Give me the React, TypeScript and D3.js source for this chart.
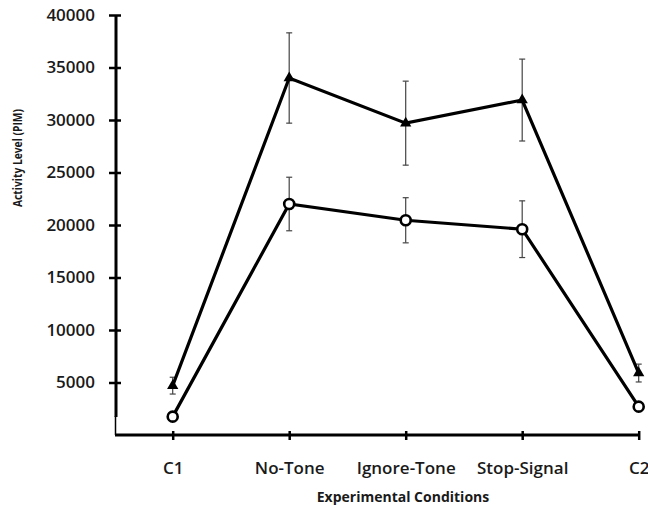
import React, { useEffect, useRef } from 'react';
import * as d3 from 'd3';

// experimental conditions along x
const categories = ['C1', 'No-Tone', 'Ignore-Tone', 'Stop-Signal', 'C2'];
// upper series (filled triangles)
const triangleMeans = [4700, 34000, 29700, 31900, 5900];
const triangleErrors = [800, 4300, 4000, 3900, 850];
// lower series (open circles)
const circleMeans = [1750, 22000, 20450, 19600, 2700];
const circleErrors = [300, 2550, 2150, 2700, 300];
const yTicks = [5000, 10000, 15000, 20000, 25000, 30000, 35000, 40000];

const font = "'Open Sans', 'Noto Sans', sans-serif";

export default function App() {
  const ref = useRef<SVGSVGElement>(null);

  useEffect(() => {
    const svg = d3.select(ref.current);
    svg.selectAll('*').remove();

    const x = d3.scalePoint<string>().domain(categories).range([172.7, 638.7]);
    const y = d3.scaleLinear().domain([0, 40000]).range([435, 15]);

    // y axis
    const yAxis = svg.append('g')
      .attr('transform', 'translate(116,0)')
      .call(d3.axisLeft(y).tickValues(yTicks).tickSize(7).tickPadding(14).tickFormat(d3.format('d')));
    yAxis.select('.domain').remove();
    yAxis.selectAll('.tick line').attr('x2', 5).attr('x1', -7).attr('stroke-width', 2.5).attr('stroke', '#000');
    yAxis.selectAll('.tick text')
      .attr('font-family', font).attr('font-size', 17).attr('font-weight', 600).attr('fill', '#1a1a1a');
    svg.append('line').attr('x1', 116).attr('x2', 116).attr('y1', y(40000)).attr('y2', 417)
      .attr('stroke', '#000').attr('stroke-width', 3);
    svg.append('line').attr('x1', 115.5).attr('x2', 115.5).attr('y1', 416).attr('y2', 435)
      .attr('stroke', '#000').attr('stroke-width', 1.5);

    // x axis
    const xAxis = svg.append('g')
      .attr('transform', 'translate(0,435)')
      .call(d3.axisBottom(x).tickSize(5).tickPadding(22));
    xAxis.select('.domain').remove();
    xAxis.selectAll('.tick line').attr('y1', -4).attr('y2', 5).attr('stroke-width', 2.5).attr('stroke', '#000');
    xAxis.selectAll('.tick text')
      .attr('font-family', font).attr('font-size', 17).attr('font-weight', 600).attr('fill', '#1a1a1a');
    svg.append('line').attr('x1', 115).attr('x2', 640).attr('y1', 435).attr('y2', 435)
      .attr('stroke', '#000').attr('stroke-width', 3);

    // axis titles
    svg.append('text')
      .attr('x', 403).attr('y', 502)
      .attr('text-anchor', 'middle')
      .attr('font-family', font).attr('font-size', 14).attr('font-weight', 700).attr('fill', '#1a1a1a')
      .text('Experimental Conditions');
    svg.append('text')
      .attr('transform', 'translate(22,158) rotate(-90)')
      .attr('text-anchor', 'middle')
      .attr('textLength', 98)
      .attr('lengthAdjust', 'spacingAndGlyphs')
      .attr('font-family', font).attr('font-size', 13).attr('font-weight', 700).attr('fill', '#1a1a1a')
      .text('Activity Level (PIM)');

    const series = [
      { means: triangleMeans, errs: triangleErrors, kind: 'triangle' },
      { means: circleMeans, errs: circleErrors, kind: 'circle' },
    ];

    // error bars
    series.forEach(s => {
      const g = svg.append('g').attr('stroke', '#444').attr('stroke-width', 1.2);
      categories.forEach((c, i) => {
        const cx = x(c)!;
        const top = y(s.means[i] + s.errs[i]);
        const bot = y(s.means[i] - s.errs[i]);
        g.append('line').attr('x1', cx).attr('x2', cx).attr('y1', top).attr('y2', bot);
        g.append('line').attr('x1', cx - 3).attr('x2', cx + 3).attr('y1', top).attr('y2', top);
        g.append('line').attr('x1', cx - 3).attr('x2', cx + 3).attr('y1', bot).attr('y2', bot);
      });
    });

    const line = d3.line<number>()
      .x((d, i) => x(categories[i])!)
      .y(d => y(d));

    series.forEach(s => {
      svg.append('path')
        .attr('d', line(s.means)!)
        .attr('fill', 'none')
        .attr('stroke', '#000')
        .attr('stroke-width', 3.2);
    });

    // markers
    const tri = d3.symbol().type(d3.symbolTriangle).size(55);
    svg.selectAll('.tri')
      .data(triangleMeans)
      .enter()
      .append('path')
      .attr('d', tri()!)
      .attr('transform', (d, i) => `translate(${x(categories[i])},${y(d)})`)
      .attr('fill', '#000');

    svg.selectAll('.circ')
      .data(circleMeans)
      .enter()
      .append('circle')
      .attr('cx', (d, i) => x(categories[i])!)
      .attr('cy', d => y(d))
      .attr('r', 5)
      .attr('fill', '#fff')
      .attr('stroke', '#000')
      .attr('stroke-width', 2.6);
  }, []);

  return (
    <svg
      ref={ref}
      width={648}
      height={508}
      style={{ position: 'absolute', left: 0, top: 0, background: '#fff' }}
    />
  );
}
